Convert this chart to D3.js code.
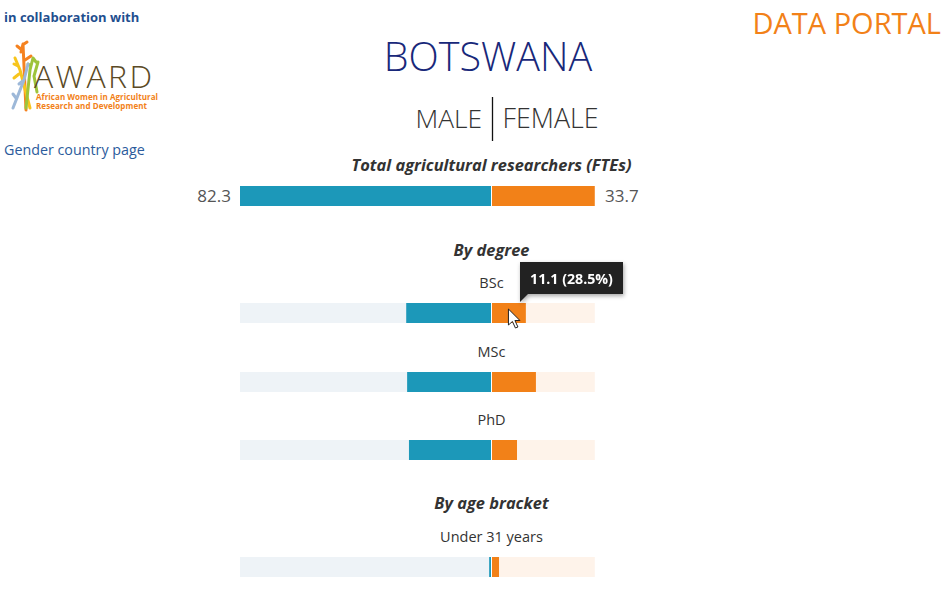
<!DOCTYPE html>
<html>
<head>
<meta charset="utf-8">
<script src="https://cdn.jsdelivr.net/npm/d3@7"></script>
<style>
  html, body { margin: 0; padding: 0; background: #fff; }
  svg { display: block; font-family: "Open Sans", "Noto Sans", sans-serif; }
</style>
</head>
<body>
<svg id="chart" width="943" height="589"></svg>
<script>
// ---- data ----
const totalLabels = ["Male", "Female"];
const totalValues = [82.3, 33.7];
const degreeCategories = ["BSc", "MSc", "PhD"];
const degreeMale = [27.8, 27.5, 26.9];
const degreeFemale = [11.1, 14.4, 8.2];
const ageCategories = ["Under 31 years"];
const ageMale = [0.6];
const ageFemale = [2.3];
const tooltipText = "11.1 (28.5%)";

// ---- style ----
const BLUE = "#1c98b9", ORANGE = "#f28118";
const BG_M = "#eef3f7", BG_F = "#fef3ea";
const svg = d3.select("#chart");
const cx = 491.5;
const x = d3.scaleLinear().domain([0, d3.max(totalValues)]).range([0, 251]);
const BAR_H = 20;

// header
svg.append("text").attr("x", 4).attr("y", 22).attr("font-size", 13).attr("font-weight", 700)
  .attr("fill", "#1f4f8f").text("in collaboration with");
svg.append("text").attr("x", 4).attr("y", 155).attr("font-size", 14.3)
  .attr("fill", "#2b5b9c").text("Gender country page");
svg.append("text").attr("x", 941).attr("y", 34).attr("text-anchor", "end").attr("font-size", 29)
  .attr("fill", ORANGE).text("DATA PORTAL");
svg.append("text").attr("x", 488).attr("y", 71).attr("text-anchor", "middle").attr("font-size", 39.5)
  .attr("font-weight", 300).attr("fill", "#18287a").text("BOTSWANA");
svg.append("text").attr("x", 482).attr("y", 128).attr("text-anchor", "end").attr("font-size", 26.3)
  .attr("font-weight", 300).attr("fill", "#333").text("MALE");
svg.append("text").attr("x", 502.5).attr("y", 128).attr("text-anchor", "start").attr("font-size", 26.8)
  .attr("font-weight", 300).attr("fill", "#333").text("FEMALE");
svg.append("line").attr("x1", 492.5).attr("x2", 492.5).attr("y1", 97).attr("y2", 141)
  .attr("stroke", "#111").attr("stroke-width", 1.3);

// logo
const logo = svg.append("g");
const sticks = [
  {c: "#f58220", d: "M23,44 L26,110 M23,44 L21,52 M22,50 L17,46 M25,60 L31,56 M24,44 L27,42"},
  {c: "#f7c51d", d: "M15,58 L20,70 L30,108 M14,64 L18,66 M19,74 L14,78"},
  {c: "#9ec43b", d: "M33,58 L30,70 L26,108 M33,58 L36,62 M31,66 L28,64 M38,62 L34,76 L37,92"},
  {c: "#9db8d8", d: "M13,108 L24,80 L28,64 M24,80 L19,84 M16,98 L13,94"}
];
sticks.forEach(s => logo.append("path").attr("d", s.d).attr("fill", "none")
  .attr("stroke", s.c).attr("stroke-width", 3).attr("stroke-linecap", "round"));
const logoText = logo.append("text");
logoText.append("tspan").attr("x", 34).attr("y", 88).attr("font-size", 32).attr("font-weight", 300)
  .attr("fill", "#5b4a26").attr("textLength", 118).text("AWARD");
logoText.append("tspan").attr("x", 36).attr("y", 100).attr("font-size", 8).attr("font-weight", 700)
  .attr("fill", ORANGE).attr("textLength", 122).text("African Women in Agricultural");
logoText.append("tspan").attr("x", 36).attr("y", 109).attr("font-size", 8).attr("font-weight", 700)
  .attr("fill", ORANGE).attr("textLength", 111).text("Research and Development");

// section headings
function heading(t, y) {
  svg.append("text").attr("x", cx).attr("y", y).attr("text-anchor", "middle")
    .attr("font-size", 16.4).attr("font-weight", 700).attr("font-style", "italic")
    .attr("fill", "#333").text(t);
}
heading("Total agricultural researchers (FTEs)", 171);
heading("By degree", 256);
heading("By age bracket", 509);

// total bar
const totalY = 186;
svg.append("rect").attr("x", cx - 0.5 - x(totalValues[0])).attr("y", totalY)
  .attr("width", x(totalValues[0])).attr("height", BAR_H).attr("fill", BLUE);
svg.append("rect").attr("x", cx + 0.5).attr("y", totalY)
  .attr("width", x(totalValues[1])).attr("height", BAR_H).attr("fill", ORANGE);
svg.append("text").attr("x", 231).attr("y", totalY + 16).attr("text-anchor", "end")
  .attr("font-size", 17).attr("fill", "#555").text(totalValues[0]);
svg.append("text").attr("x", 605).attr("y", totalY + 16).attr("text-anchor", "start")
  .attr("font-size", 17).attr("fill", "#555").text(totalValues[1]);

// breakdown rows
function rows(cats, male, female, ys) {
  const g = svg.append("g");
  cats.forEach((c, i) => {
    const y = ys[i];
    g.append("text").attr("x", cx).attr("y", y - 15).attr("text-anchor", "middle")
      .attr("font-size", 14.5).attr("fill", "#333").text(c);
    g.append("rect").attr("x", cx - 0.5 - x(totalValues[0])).attr("y", y)
      .attr("width", x(totalValues[0])).attr("height", BAR_H).attr("fill", BG_M);
    g.append("rect").attr("x", cx + 0.5).attr("y", y)
      .attr("width", x(totalValues[1])).attr("height", BAR_H).attr("fill", BG_F);
    g.append("rect").attr("x", cx - 0.5 - x(male[i])).attr("y", y)
      .attr("width", x(male[i])).attr("height", BAR_H).attr("fill", BLUE);
    g.append("rect").attr("x", cx + 0.5).attr("y", y)
      .attr("width", x(female[i])).attr("height", BAR_H).attr("fill", ORANGE);
  });
}
rows(degreeCategories, degreeMale, degreeFemale, [303, 372, 440]);
rows(ageCategories, ageMale, ageFemale, [557]);

// tooltip
const defs = svg.append("defs");
const f = defs.append("filter").attr("id", "sh").attr("x", "-20%").attr("y", "-20%")
  .attr("width", "140%").attr("height", "160%");
f.append("feDropShadow").attr("dx", 1).attr("dy", 2).attr("stdDeviation", 2)
  .attr("flood-color", "#000").attr("flood-opacity", 0.35);
const tipX = cx + 0.5 + x(degreeFemale[0]) / 2 - 0.5;
const tt = svg.append("g").attr("filter", "url(#sh)");
tt.append("path")
  .attr("d", `M${520},262 H623 V294 H528 L520,302 V294 Z`)
  .attr("fill", "#222");
tt.append("text").attr("x", 571.5).attr("y", 283.5).attr("text-anchor", "middle")
  .attr("font-size", 14.2).attr("font-weight", 700).attr("fill", "#fff").text(tooltipText);

// cursor
svg.append("path")
  .attr("transform", `translate(${tipX},309)`)
  .attr("d", "M0,0 L0,16 L4,12.5 L7,19 L9.5,18 L6.5,11.5 L11.5,11.5 Z")
  .attr("fill", "#fff").attr("stroke", "#222").attr("stroke-width", 1);
</script>
</body>
</html>
